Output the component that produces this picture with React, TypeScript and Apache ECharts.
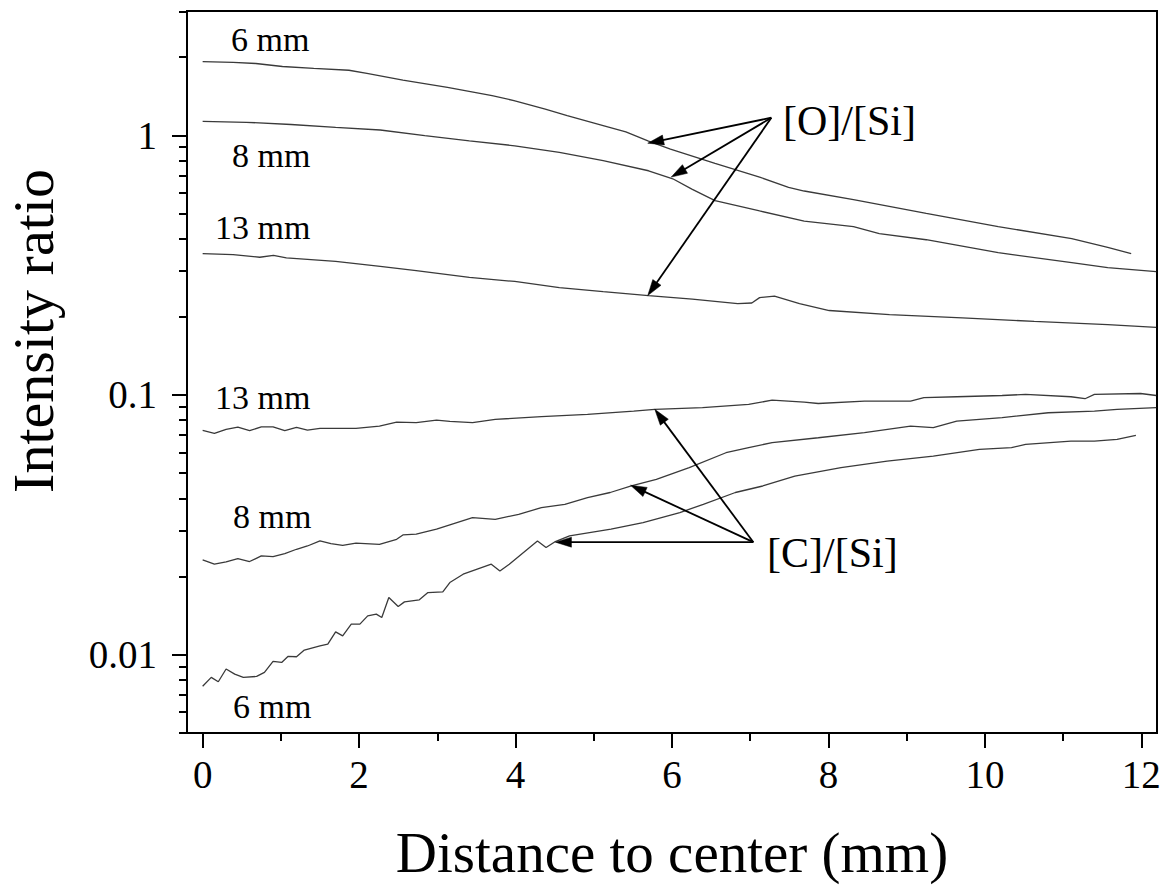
import React, { useEffect, useRef } from 'react';
import * as echarts from 'echarts';

// [O]/[Si] intensity ratios
const oSi6mm: [number, number][] = [
  [0, 1.92], [0.39, 1.91], [0.68, 1.89], [1.02, 1.84], [1.42, 1.81], [1.87, 1.78], [2.1, 1.73],
  [2.56, 1.63], [3.13, 1.53], [3.7, 1.42], [3.98, 1.36], [4.38, 1.26], [4.66, 1.19], [5.12, 1.09],
  [5.41, 1.03], [5.7, 0.95], [5.98, 0.885], [6.55, 0.78], [7.12, 0.69], [7.49, 0.63], [7.69, 0.61],
  [8.32, 0.565], [9.25, 0.5], [10.17, 0.445], [11.11, 0.4], [11.57, 0.37], [11.87, 0.35],
];
const oSi8mm: [number, number][] = [
  [0, 1.132], [0.56, 1.122], [1.13, 1.1], [1.7, 1.073], [2.27, 1.048], [2.84, 0.996], [3.41, 0.952],
  [3.99, 0.911], [4.56, 0.859], [5.12, 0.798], [5.7, 0.73], [6.01, 0.68], [6.26, 0.619], [6.55, 0.56],
  [7.12, 0.511], [7.69, 0.467], [8.32, 0.445], [8.65, 0.418], [9.25, 0.396], [10.17, 0.353],
  [11.11, 0.323], [11.57, 0.309], [12.19, 0.2985],
];
const oSi13mm: [number, number][] = [
  [0, 0.35], [0.39, 0.347], [0.73, 0.339], [0.905, 0.345], [1.07, 0.337], [1.7, 0.327], [2.27, 0.3126],
  [2.73, 0.301], [3.41, 0.2834], [3.99, 0.2735], [4.56, 0.259], [5.12, 0.25], [5.7, 0.2414],
  [6.26, 0.234], [6.84, 0.2249], [7.02, 0.226], [7.12, 0.237], [7.31, 0.24], [7.63, 0.2249],
  [8.01, 0.2114], [8.78, 0.204], [9.71, 0.198], [10.63, 0.192], [11.57, 0.1867], [12.19, 0.182],
];

// [C]/[Si] intensity ratios
const cSi13mm: [number, number][] = [
  [0, 0.073], [0.15, 0.0711], [0.3, 0.0737], [0.45, 0.0752], [0.6, 0.0728], [0.75, 0.0754], [0.9, 0.0754],
  [1.05, 0.0728], [1.2, 0.075], [1.34, 0.0732], [1.5, 0.0743], [1.96, 0.0743], [2.26, 0.0759],
  [2.48, 0.0786], [2.73, 0.0782], [2.99, 0.08], [3.16, 0.0791], [3.45, 0.0782], [3.74, 0.0805],
  [4.33, 0.0825], [4.92, 0.0841], [5.51, 0.0867], [5.78, 0.088], [6.39, 0.0893], [6.98, 0.0919],
  [7.28, 0.0955], [7.69, 0.0938], [7.87, 0.0927], [8.46, 0.0947], [9.05, 0.0947], [9.22, 0.0976],
  [9.64, 0.0984], [10.22, 0.0995], [10.52, 0.1005], [11.1, 0.0984], [11.28, 0.0967], [11.4, 0.1005],
  [11.99, 0.1013], [12.19, 0.0995],
];
const cSi8mm: [number, number][] = [
  [0, 0.02316], [0.15, 0.0223], [0.3, 0.02275], [0.45, 0.02344], [0.6, 0.02283], [0.75, 0.02399],
  [0.9, 0.02386], [1.05, 0.02449], [1.2, 0.02545], [1.34, 0.0262], [1.5, 0.0274], [1.64, 0.02677],
  [1.79, 0.02636], [1.96, 0.02685], [2.26, 0.0266], [2.48, 0.0278], [2.56, 0.0289], [2.73, 0.0291],
  [2.99, 0.0304], [3.16, 0.0316], [3.45, 0.0337], [3.74, 0.0332], [4.04, 0.0347], [4.33, 0.0368],
  [4.63, 0.0379], [4.92, 0.0402], [5.21, 0.0421], [5.48, 0.0446], [5.8, 0.0473], [6.22, 0.0525],
  [6.69, 0.0599], [6.98, 0.0627], [7.28, 0.0655], [7.87, 0.0684], [8.46, 0.0716], [9.05, 0.0759],
  [9.34, 0.0748], [9.64, 0.0793], [10.22, 0.0818], [10.81, 0.0854], [11.4, 0.0867], [11.69, 0.088],
  [12.19, 0.0893],
];
const cSi6mm: [number, number][] = [
  [0, 0.00755], [0.11, 0.00817], [0.2, 0.00786], [0.3, 0.0088], [0.41, 0.00841], [0.52, 0.00817],
  [0.69, 0.00824], [0.79, 0.00854], [0.9, 0.00941], [1.01, 0.00933], [1.09, 0.00984], [1.2, 0.00981],
  [1.3, 0.01041], [1.5, 0.01081], [1.6, 0.01098], [1.7, 0.01224], [1.79, 0.01181], [1.9, 0.0131],
  [2.01, 0.0131], [2.11, 0.0141], [2.22, 0.01432], [2.29, 0.0139], [2.38, 0.0166], [2.5, 0.01532],
  [2.58, 0.01596], [2.77, 0.01625], [2.88, 0.01734], [3.07, 0.01744], [3.16, 0.01895], [3.33, 0.0204],
  [3.69, 0.0223], [3.8, 0.021], [3.92, 0.0223], [4.28, 0.0274], [4.39, 0.02584], [4.5, 0.02716],
  [4.69, 0.02864], [5.22, 0.0304], [5.63, 0.03225], [6.1, 0.03524], [6.4, 0.0379], [6.81, 0.0421],
  [7.16, 0.0446], [7.57, 0.0487], [8.16, 0.0525], [8.75, 0.0556], [9.34, 0.0581], [9.93, 0.0617],
  [10.34, 0.0627], [10.52, 0.0645], [11.1, 0.0664], [11.4, 0.0664], [11.69, 0.0674], [11.93, 0.0699],
];

// Axis ticks
const xMajorTicks = [0, 2, 4, 6, 8, 10, 12];
const xMinorTicks = [1, 3, 5, 7, 9, 11];
const yMajorTicks = [0.01, 0.1, 1];
const yMinorTicks = [
  0.005, 0.006, 0.007, 0.008, 0.009,
  0.02, 0.03, 0.04, 0.05, 0.06, 0.07, 0.08, 0.09,
  0.2, 0.3, 0.4, 0.5, 0.6, 0.7, 0.8, 0.9,
  2, 3,
];

// Annotation arrows: [fromX, fromY, toX, toY] in data units
const arrowsOSi = [
  [7.27, 1.168, 5.69, 0.932],
  [7.27, 1.168, 5.99, 0.69],
  [7.27, 1.168, 5.69, 0.2414],
];
const arrowsCSi = [
  [7.04, 0.0271, 5.78, 0.088],
  [7.04, 0.0271, 5.47, 0.0449],
  [7.04, 0.0271, 4.51, 0.0271],
];

const FONT = "'Liberation Serif', 'Times New Roman', serif";

export default function App() {
  const ref = useRef<HTMLDivElement>(null);
  useEffect(() => {
    if (!ref.current) return;
    const chart = echarts.init(ref.current, null, { renderer: 'svg' });
    const lineColor = '#3a3a3a';
    const mkLine = (name: string, data: [number, number][]) => ({
      name,
      type: 'line',
      data,
      showSymbol: false,
      symbol: 'none',
      lineStyle: { color: lineColor, width: 1.3 },
      xAxisIndex: 0,
      yAxisIndex: 0,
      z: 3,
    });
    const arrowSeries = (name: string, data: number[][]) => ({
      name,
      type: 'custom',
      xAxisIndex: 0,
      yAxisIndex: 0,
      data,
      z: 4,
      renderItem: (_params: any, api: any) => {
        const p0 = api.coord([api.value(0), api.value(1)]);
        const p1 = api.coord([api.value(2), api.value(3)]);
        const dx = p1[0] - p0[0];
        const dy = p1[1] - p0[1];
        const len = Math.hypot(dx, dy) || 1;
        const ux = dx / len;
        const uy = dy / len;
        const L = 16;
        const W = 5;
        const bx = p1[0] - ux * L;
        const by = p1[1] - uy * L;
        return {
          type: 'group',
          children: [
            {
              type: 'line',
              shape: { x1: p0[0], y1: p0[1], x2: bx + ux * 2, y2: by + uy * 2 },
              style: { stroke: '#000', lineWidth: 1.8 },
            },
            {
              type: 'polygon',
              shape: {
                points: [
                  [p1[0], p1[1]],
                  [bx - uy * W, by + ux * W],
                  [bx + uy * W, by - ux * W],
                ],
              },
              style: { fill: '#000', stroke: '#000', lineWidth: 0.5 },
            },
          ],
        };
      },
    });
    const txt = (text: string, x: number, y: number, size: number, extra: any = {}) => ({
      type: 'text',
      x,
      y,
      z: 10,
      ...extra,
      style: {
        text,
        fill: '#000',
        fontSize: size,
        fontFamily: FONT,
        align: extra.align || 'left',
        verticalAlign: 'middle',
      },
    });

    chart.setOption({
      animation: false,
      backgroundColor: '#fff',
      grid: {
        left: 187,
        right: 12,
        top: 11,
        bottom: 158,
        show: true,
        borderColor: '#000',
        borderWidth: 2,
        backgroundColor: 'transparent',
      },
      xAxis: [
        {
          type: 'value',
          min: -0.2,
          max: 12.2,
          name: 'Distance to center (mm)',
          nameLocation: 'middle',
          nameGap: 91,
          nameTextStyle: { fontSize: 57, fontFamily: FONT, color: '#000' },
          axisLine: { show: true, onZero: false, lineStyle: { color: '#000', width: 2 } },
          axisTick: { show: true, inside: false, length: 15, customValues: xMajorTicks, lineStyle: { color: '#000', width: 2 } },
          axisLabel: {
            show: true,
            customValues: xMajorTicks,
            margin: 22,
            fontSize: 39,
            fontFamily: FONT,
            color: '#000',
            formatter: (v: number) => String(v),
          },
          splitLine: { show: false },
        },
        {
          type: 'value',
          min: -0.2,
          max: 12.2,
          position: 'bottom',
          axisLine: { show: false, onZero: false },
          axisTick: { show: true, inside: false, length: 8, customValues: xMinorTicks, lineStyle: { color: '#000', width: 2 } },
          axisLabel: { show: false },
          splitLine: { show: false },
        },
      ],
      yAxis: [
        {
          type: 'log',
          logBase: 10,
          min: 0.00499,
          max: 3.01,
          axisLine: { show: true, onZero: false, lineStyle: { color: '#000', width: 2 } },
          axisTick: { show: true, inside: false, length: 15, customValues: yMajorTicks, lineStyle: { color: '#000', width: 2 } },
          axisLabel: {
            show: true,
            customValues: yMajorTicks,
            margin: 30,
            fontSize: 39,
            fontFamily: FONT,
            color: '#000',
            formatter: (v: number) => String(v),
          },
          splitLine: { show: false },
          minorTick: { show: false },
        },
        {
          type: 'log',
          logBase: 10,
          min: 0.00499,
          max: 3.01,
          position: 'left',
          axisLine: { show: false, onZero: false },
          axisTick: { show: true, inside: false, length: 8, customValues: yMinorTicks, lineStyle: { color: '#000', width: 2 } },
          axisLabel: { show: false },
          splitLine: { show: false },
        },
      ],
      series: [
        mkLine('[O]/[Si] 6 mm', oSi6mm),
        mkLine('[O]/[Si] 8 mm', oSi8mm),
        mkLine('[O]/[Si] 13 mm', oSi13mm),
        mkLine('[C]/[Si] 13 mm', cSi13mm),
        mkLine('[C]/[Si] 8 mm', cSi8mm),
        mkLine('[C]/[Si] 6 mm', cSi6mm),
        arrowSeries('[O]/[Si] arrows', arrowsOSi),
        arrowSeries('[C]/[Si] arrows', arrowsCSi),
      ],
      graphic: [
        txt('Intensity ratio', 33, 331, 58, { rotation: Math.PI / 2, align: 'center' }),
        txt('6 mm', 231, 39, 34),
        txt('8 mm', 232, 155, 34),
        txt('13 mm', 215, 227, 34),
        txt('13 mm', 215, 397, 34),
        txt('8 mm', 233, 516, 34),
        txt('6 mm', 233, 706, 34),
        txt('[O]/[Si]', 783, 121, 42),
        txt('[C]/[Si]', 767, 553, 42),
      ],
    });
    return () => chart.dispose();
  }, []);
  return (
    <div
      ref={ref}
      style={{ position: 'absolute', left: 0, top: 0, width: 1169, height: 891, background: '#fff' }}
    />
  );
}
